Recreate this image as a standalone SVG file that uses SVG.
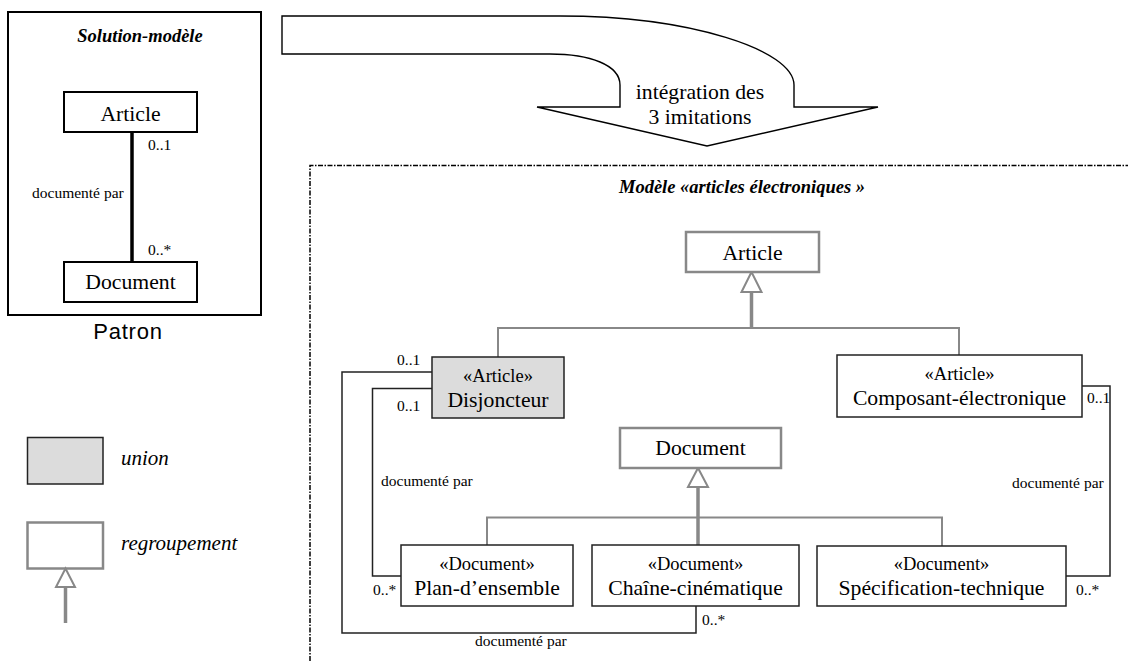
<svg xmlns="http://www.w3.org/2000/svg" width="1128" height="661" viewBox="0 0 1128 661" font-family="'Liberation Serif', 'DejaVu Serif', serif">
  <style>
    text { font-family: 'Liberation Serif', 'DejaVu Serif', serif; fill: #000; }
    .name { font-size: 21.7px; text-anchor: middle; }
    .stereo { font-size: 18.5px; text-anchor: middle; }
    .small { font-size: 15.5px; }
    .title { font-size: 18.5px; font-weight: bold; font-style: italic; text-anchor: middle; }
    .caption { font-family: 'Liberation Sans', 'DejaVu Sans', sans-serif; font-size: 22px; letter-spacing: 0.8px; text-anchor: middle; }
    .legend { font-size: 21px; font-style: italic; }
    .blackbox { fill: #fff; stroke: #000; stroke-width: 2; }
    .classbox { fill: #fff; stroke: #222; stroke-width: 1.5; }
    .unionbox { fill: #dcdcdc; stroke: #222; stroke-width: 1.5; }
    .groupbox { fill: #fff; stroke: #888; stroke-width: 2.5; }
    .gen { fill: none; stroke: #888; stroke-width: 2; }
    .genstem { fill: none; stroke: #888; stroke-width: 3.5; }
    .genhead { fill: #fff; stroke: #888; stroke-width: 2; }
    .assoc { fill: none; stroke: #222; stroke-width: 1.5; }
  </style>

  <!-- Pattern: solution model -->
  <g id="patron">
    <rect x="8" y="12" width="253" height="303" class="blackbox"/>
    <text x="140" y="42" class="title">Solution-modèle</text>
    <text x="128" y="339" class="caption">Patron</text>
  </g>
  <g id="patron-article">
    <rect x="64" y="92" width="133" height="40" class="blackbox"/>
    <text x="130.5" y="121" class="name">Article</text>
  </g>
  <g id="patron-document">
    <rect x="64" y="262" width="133" height="40" class="blackbox"/>
    <text x="130.5" y="289" class="name">Document</text>
  </g>
  <g id="patron-link">
    <line x1="132" y1="132" x2="132" y2="262" stroke="#000" stroke-width="3.5"/>
    <text x="148" y="150" class="small">0..1</text>
    <text x="32" y="198" class="small">documenté par</text>
    <text x="148" y="255" class="small">0..*</text>
  </g>

  <!-- Big curved arrow -->
  <g id="integration">
    <path d="M282,16 H560 C690,16 794,50 794,85 V107 H878 L707,146 L537,107 H620 V85 C620,65 590,54 550,54 H282 Z" fill="#fff" stroke="#000" stroke-width="1.4" stroke-linejoin="miter"/>
    <text x="700" y="99" class="name">intégration des</text>
    <text x="700" y="124" class="name">3 imitations</text>
  </g>

  <!-- Model frame -->
  <g id="modele-frame">
    <path d="M310,661 V165.5 H1128" fill="none" stroke="#000" stroke-width="1.5" stroke-dasharray="5 1.5 1.5 1.5"/>
    <text x="742" y="193" class="title">Modèle «articles électroniques »</text>
  </g>

  <!-- Connectors -->
  <g id="connectors">
    <!-- generalization to Article -->
    <polyline points="498,357 498,328 959,328 959,355" class="gen"/>
    <line x1="751.5" y1="292" x2="751.5" y2="328" class="genstem"/>
    <polygon points="751.5,272 741.5,292 761.5,292" class="genhead"/>
    <!-- generalization to Document -->
    <polyline points="487,545 487,517.5 942,517.5 942,546" class="gen"/>
    <line x1="698" y1="487" x2="698" y2="545" class="genstem"/>
    <polygon points="698,468 688,487 708,487" class="genhead"/>
    <!-- associations "documenté par" -->
    <polyline points="432,372 342,372 342,633 696,633 696,606" class="assoc"/>
    <polyline points="432,388.5 372.5,388.5 372.5,576 401,576" class="assoc"/>
    <polyline points="1082,386 1110,386 1110,576 1066,576" class="assoc"/>
    <text x="397" y="365" class="small">0..1</text>
    <text x="397" y="411" class="small">0..1</text>
    <text x="381" y="486" class="small">documenté par</text>
    <text x="373" y="595" class="small">0..*</text>
    <text x="702" y="625" class="small">0..*</text>
    <text x="475" y="646" class="small">documenté par</text>
    <text x="1087" y="403" class="small">0..1</text>
    <text x="1012" y="488" class="small">documenté par</text>
    <text x="1076" y="595" class="small">0..*</text>
  </g>

  <!-- Classes -->
  <g id="article">
    <rect x="686" y="232" width="133" height="40" class="groupbox"/>
    <text x="752.5" y="260" class="name">Article</text>
  </g>
  <g id="disjoncteur">
    <rect x="432" y="357" width="132" height="61" class="unionbox"/>
    <text x="498" y="382" class="stereo">«Article»</text>
    <text x="498" y="407" class="name">Disjoncteur</text>
  </g>
  <g id="composant-electronique">
    <rect x="837" y="355" width="245" height="62" class="classbox"/>
    <text x="959.5" y="380" class="stereo">«Article»</text>
    <text x="959.5" y="405" class="name">Composant-électronique</text>
  </g>
  <g id="document">
    <rect x="620" y="428" width="161" height="40" class="groupbox"/>
    <text x="700.5" y="455" class="name">Document</text>
  </g>
  <g id="plan-ensemble">
    <rect x="401" y="545" width="172" height="61" class="classbox"/>
    <text x="487" y="570" class="stereo">«Document»</text>
    <text x="487" y="595" class="name">Plan-d’ensemble</text>
  </g>
  <g id="chaine-cinematique">
    <rect x="592" y="545" width="207" height="61" class="classbox"/>
    <text x="695.5" y="570" class="stereo">«Document»</text>
    <text x="695.5" y="595" class="name">Chaîne-cinématique</text>
  </g>
  <g id="specification-technique">
    <rect x="817" y="546" width="249" height="60" class="classbox"/>
    <text x="941.5" y="570" class="stereo">«Document»</text>
    <text x="941.5" y="595" class="name">Spécification-technique</text>
  </g>

  <!-- Legend -->
  <g id="legend-union">
    <rect x="27.5" y="437.5" width="75.5" height="46.5" class="unionbox"/>
    <text x="121" y="465" class="legend">union</text>
  </g>
  <g id="legend-regroupement">
    <rect x="27.5" y="522.5" width="75.5" height="46" class="groupbox"/>
    <line x1="65.5" y1="587" x2="65.5" y2="623" class="genstem"/>
    <polygon points="65.5,568.5 56,587 75,587" class="genhead"/>
    <text x="121" y="550" class="legend">regroupement</text>
  </g>
</svg>
